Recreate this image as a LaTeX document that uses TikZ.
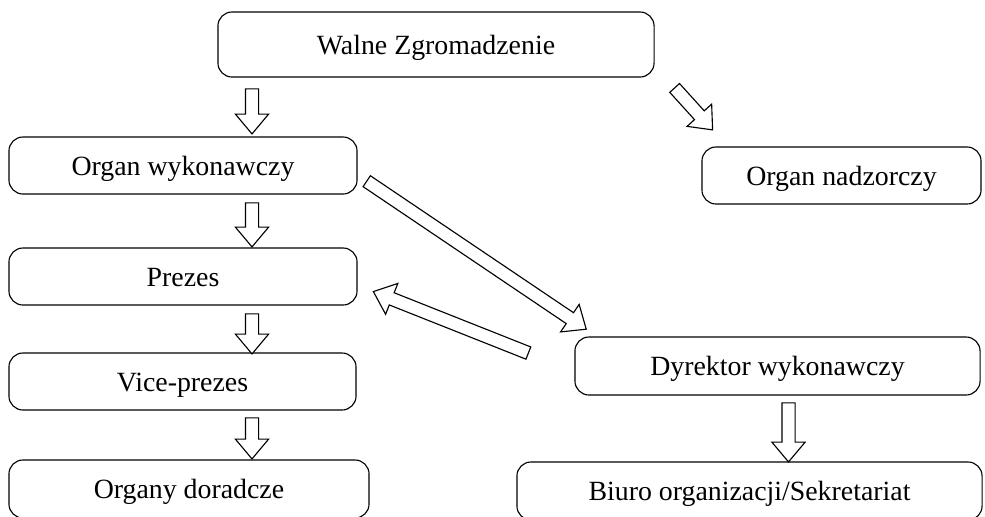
\documentclass[tikz,border=0pt]{standalone}
\usepackage{fontspec}
\setmainfont{Liberation Serif}
\usetikzlibrary{calc,shapes.arrows}

\tikzset{
  box/.style={draw, line width=0.8pt, rounded corners=0.35cm, inner sep=0pt,
    font=\fontsize{19.8}{22}\selectfont, text height=14pt, text depth=0pt},
  hollow arrow/.style={draw, line width=0.8pt, single arrow, inner xsep=0pt,
    inner ysep=0.15cm, single arrow head extend=0.25cm,
    single arrow tip angle=80, fill=white}
}
% hollow block arrow between two named points
\newcommand{\hollowarrow}[2]{%
  \path let \p1=($(#2)-(#1)$), \n1={veclen(\x1,\y1)}, \n2={atan2(\y1,\x1)} in
    node[hollow arrow, minimum height=\n1, rotate=\n2] at ($(#1)!0.5!(#2)$) {};}

\begin{document}
\begin{tikzpicture}[x=0.025cm,y=-0.025cm]
\useasboundingbox (0,0) rectangle (985,516);
% boxes
\node[box, minimum width=10.9cm, minimum height=1.625cm] (walne) at (436,44.5) {Walne Zgromadzenie};
\node[box, minimum width=8.7cm, minimum height=1.425cm] (wyk) at (183,165.5) {Organ wykonawczy};
\node[box, minimum width=6.975cm, minimum height=1.425cm] (nadz) at (841.5,175.5) {Organ nadzorczy};
\node[box, minimum width=8.7cm, minimum height=1.425cm] (prezes) at (183,276.5) {Prezes};
\node[box, minimum width=8.675cm, minimum height=1.425cm] (vice) at (182.5,381.5) {Vice-prezes};
\node[box, minimum width=9cm, minimum height=1.45cm] (organy) at (189,489) {Organy doradcze};
\node[box, minimum width=10.125cm, minimum height=1.45cm] (dyr) at (777.5,366) {Dyrektor wykonawczy};
\node[box, minimum width=11.625cm, minimum height=1.45cm] (biuro) at (749.5,491) {Biuro organizacji/Sekretariat};

% arrow ends
\coordinate (walne-a) at (252,85);   \coordinate (wyk-a) at (252,130);
\coordinate (wyk-b) at (252,199);    \coordinate (prezes-a) at (252,243);
\coordinate (prezes-b) at (252,310); \coordinate (vice-a) at (252,350);
\coordinate (vice-b) at (252,414);   \coordinate (organy-a) at (252,455);
\coordinate (dyr-b) at (788.5,399);  \coordinate (biuro-a) at (788.5,458);
\coordinate (walne-b) at (672,85);   \coordinate (nadz-a) at (710,127);
\coordinate (wyk-c) at (363.5,179);  \coordinate (dyr-a) at (583,327);
\coordinate (dyr-c) at (532,354.5);  \coordinate (prezes-c) at (377,293);

% arrows
\foreach \s/\e in {walne-a/wyk-a, wyk-b/prezes-a, prezes-b/vice-a, vice-b/organy-a,
    dyr-b/biuro-a, walne-b/nadz-a, wyk-c/dyr-a, dyr-c/prezes-c}
  {\hollowarrow{\s}{\e}}
\end{tikzpicture}
\end{document}
